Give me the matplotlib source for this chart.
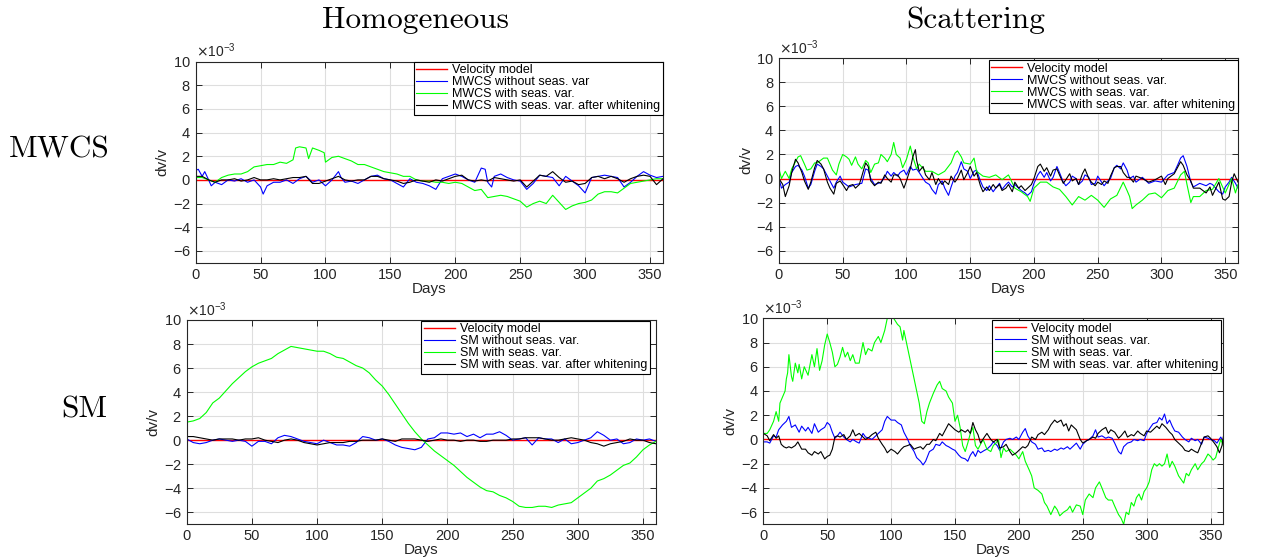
import matplotlib
matplotlib.use("Agg")
import matplotlib.pyplot as plt

plt.rcParams["font.family"] = ["Liberation Sans", "DejaVu Sans"]
plt.rcParams["axes.unicode_minus"] = False

SCALE = 1e-3  # all dv/v values below are in units of 10^-3

# ---------------- Homogeneous medium, MWCS ----------------
HOM_MWCS_MODEL_DAYS = [0, 360]
HOM_MWCS_MODEL = [0.0, 0.0]

HOM_MWCS_BLUE_DAYS = [0, 2, 5, 7, 10, 12, 15, 20, 25, 30, 35, 40, 45, 50, 52, 55, 60, 65, 70, 75,
                      80, 85, 90, 95, 100, 105, 110, 112, 115, 120, 125, 130, 135, 140, 145, 150,
                      155, 160, 165, 170, 175, 180, 185, 190, 195, 200, 205, 210, 215, 220, 223,
                      225, 228, 230, 235, 240, 245, 250, 255, 260, 265, 270, 275, 280, 285, 290,
                      295, 300, 305, 310, 315, 320, 325, 330, 335, 340, 345, 350, 355, 360]
HOM_MWCS_BLUE = [0.8, 0.9, 0.3, 0.7, 0.0, -0.5, -0.2, -0.4, 0.0, -0.1, 0.1, -0.2, 0.0, -0.6, -1.2,
                 -0.5, -0.2, -0.2, 0.0, -0.3, 0.1, 0.3, -0.2, 0.0, -0.5, 0.0, 0.7, 0.2, -0.2, -0.1,
                 -0.3, 0.0, 0.3, 0.4, 0.1, 0.0, -0.3, -0.6, 0.1, -0.2, -0.3, -0.5, -0.8, 0.1, 0.3,
                 0.5, 0.3, 0.0, -0.2, 1.0, 0.9, -0.2, -0.6, 0.3, 0.5, 0.2, 0.0, -0.1, -0.8, -0.3,
                 0.4, 0.3, 0.2, -0.5, 0.3, -0.1, -0.5, -1.1, 0.2, 0.3, 0.4, 0.3, 0.2, -0.6, -0.2,
                 0.3, 0.7, 0.4, 0.2, 0.3]

HOM_MWCS_GREEN_DAYS = [0, 5, 10, 15, 20, 25, 30, 35, 40, 45, 50, 55, 60, 65, 70, 75, 77, 80, 85,
                       87, 90, 95, 99, 100, 105, 110, 115, 120, 125, 130, 135, 140, 145, 150, 155,
                       160, 165, 170, 175, 180, 185, 190, 195, 200, 205, 210, 215, 220, 225, 230,
                       235, 240, 245, 250, 255, 260, 265, 270, 275, 280, 285, 290, 295, 300, 305,
                       310, 315, 320, 325, 330, 335, 340, 345, 350, 355, 360]
HOM_MWCS_GREEN = [0.2, 0.2, 0.0, -0.2, 0.2, 0.4, 0.5, 0.5, 0.7, 1.1, 1.2, 1.3, 1.3, 1.5, 1.4, 1.7,
                  2.7, 2.8, 2.7, 1.8, 2.7, 2.5, 2.3, 1.5, 1.9, 2.0, 1.8, 1.6, 1.3, 1.3, 1.1, 0.9,
                  0.7, 0.6, 0.5, 0.3, 0.3, 0.0, -0.1, -0.1, -0.2, -0.2, -0.3, -0.2, -0.3, -0.6,
                  -0.9, -0.8, -1.5, -1.4, -1.3, -1.4, -1.6, -1.8, -2.3, -2.0, -1.8, -2.0, -1.3,
                  -1.9, -2.5, -2.2, -2.0, -1.9, -1.7, -1.2, -1.0, -1.0, -1.1, -0.7, -0.3, -0.2,
                  -0.1, 0.0, 0.1, 0.1]

HOM_MWCS_BLACK_DAYS = list(range(0, 365, 5))
HOM_MWCS_BLACK = [0.3, 0.3, 0.0, -0.2, 0.0, 0.0, 0.1, -0.1, 0.0, 0.2, 0.0, 0.0, 0.1, 0.0, 0.1,
                  0.2, 0.2, 0.3, -0.3, -0.3, -0.1, 0.1, 0.3, 0.0, -0.1, 0.0, 0.0, 0.3, 0.3, 0.1,
                  0.0, -0.1, -0.3, -0.2, 0.0, -0.1, -0.2, 0.0, -0.1, 0.1, 0.3, 0.4, 0.0, -0.1,
                  0.0, -0.1, 0.2, 0.1, 0.0, -0.1, 0.0, -0.6, -0.1, 0.4, 0.3, 0.7, 0.2, -0.2,
                  -0.1, -0.4, -0.3, 0.2, 0.3, 0.1, 0.3, 0.1, -0.2, 0.1, 0.3, 0.4, 0.3, -0.4, 0.1]

# ---------------- Scattering medium, MWCS ----------------
SCA_MWCS_GREEN_DAYS = [0, 2, 5, 8, 10, 13, 15, 17, 20, 22, 25, 28, 30, 35, 38, 40, 42, 45, 47, 50,
                       53, 55, 57, 60, 62, 65, 68, 70, 72, 75, 78, 80, 83, 85, 88, 90, 92, 95, 97,
                       100, 103, 105, 108, 110, 115, 120, 125, 130, 135, 138, 140, 143, 145, 150,
                       153, 155, 160, 165, 170, 175, 180, 185, 190, 195, 197, 200, 205, 210, 215,
                       220, 225, 230, 235, 240, 245, 250, 255, 260, 265, 270, 273, 275, 277, 280,
                       285, 290, 295, 300, 305, 310, 315, 318, 320, 323, 325, 330, 335, 340, 345,
                       350, 355, 358, 360]
SCA_MWCS_GREEN = [0.8, 0.0, 0.6, 0.0, 0.8, 1.4, 1.8, 1.9, 1.2, 0.7, 0.8, 1.3, 1.3, 1.7, 1.7, 1.2,
                  0.7, 0.3, 1.2, 2.0, 1.8, 1.6, 1.1, 1.8, 1.2, 0.8, 1.5, 1.3, 0.5, 1.2, 1.3, 2.0,
                  1.7, 1.4, 2.0, 3.0, 2.0, 1.7, 0.9, 1.6, 2.7, 1.8, 0.8, 1.2, 0.6, 0.6, 0.3, 0.6,
                  1.3, 2.1, 2.3, 1.8, 1.3, 1.2, 1.7, 0.6, 0.2, 0.1, 0.3, -0.1, 0.3, -0.8, -1.1,
                  -1.5, -1.9, -0.8, -0.3, -0.3, -0.7, -0.9, -1.5, -2.2, -1.5, -1.8, -1.4, -1.8,
                  -2.4, -1.7, -1.4, -0.3, -1.0, -1.5, -2.5, -2.2, -1.8, -1.3, -1.2, -1.6, -1.0,
                  -0.8, 0.3, 0.6, -0.5, -2.0, -1.5, -1.5, -1.0, -0.9, 0.0, -1.2, 0.0, -1.2, -0.5]

SCA_MWCS_BLUE_DAYS = [0, 2, 5, 8, 10, 13, 15, 18, 20, 23, 25, 28, 30, 33, 35, 38, 40, 43, 45, 48,
                      50, 55, 60, 65, 68, 70, 72, 75, 78, 80, 83, 85, 88, 90, 93, 95, 98, 100, 103,
                      105, 108, 110, 113, 115, 118, 120, 123, 125, 128, 130, 133, 135, 138, 140,
                      143, 145, 148, 150, 153, 155, 158, 160, 163, 165, 168, 170, 173, 175, 178,
                      180, 183, 185, 188, 190, 193, 195, 198, 200, 203, 205, 208, 210, 213, 215,
                      218, 220, 223, 225, 228, 230, 233, 235, 238, 240, 243, 245, 248, 250, 253,
                      255, 258, 260, 263, 265, 268, 270, 273, 275, 278, 280, 285, 290, 295, 300,
                      305, 310, 313, 315, 317, 320, 323, 325, 330, 335, 338, 340, 345, 348, 350,
                      353, 355, 358, 360]
SCA_MWCS_BLUE = [0.0, -0.8, -0.5, -0.3, 0.5, 1.0, 1.1, 0.7, 0.2, -0.8, -0.5, 0.6, 1.2, 1.0, 0.8,
                 0.2, -0.2, -0.8, -0.3, 0.2, -0.3, -0.7, -0.5, -0.4, 0.8, 0.7, 0.0, -0.5, -0.4,
                 -0.3, 0.1, 0.6, 0.2, 0.5, 0.2, 0.5, 0.7, 0.3, 1.0, 0.7, 0.8, 0.5, 0.0, -0.3,
                 -0.5, -0.9, -1.3, -0.5, -0.2, -0.8, -1.4, -0.7, 0.2, 0.5, 1.4, 0.8, 0.6, 0.0,
                 0.6, 0.7, -0.2, -0.7, -1.0, -0.6, -1.1, -0.8, -0.4, -0.9, -0.5, -0.3, -0.7,
                 -0.5, -0.8, -1.0, -1.2, -1.4, -1.1, -0.4, 0.3, 0.6, 0.1, 0.5, -0.2, 0.1, 1.0,
                 0.5, -0.3, -0.6, -0.3, 0.2, 0.0, -0.5, -0.2, 0.3, 0.1, -0.5, -0.4, 0.2, -0.3,
                 -0.6, -0.2, 0.0, 0.9, 1.1, 0.8, 1.3, 0.7, 0.0, 0.2, -0.3, 0.1, -0.4, -0.2, -0.3,
                 0.3, 0.5, 1.2, 1.7, 1.9, 1.0, -0.3, -0.7, -0.4, -0.6, -0.4, -0.5, -1.1, -1.3,
                 -0.7, -0.3, 0.1, -0.4, -0.8]

SCA_MWCS_BLACK_DAYS = [0, 3, 5, 8, 10, 13, 15, 18, 20, 23, 25, 28, 30, 33, 35, 38, 40, 43, 45, 48,
                       50, 53, 55, 58, 60, 63, 65, 68, 70, 72, 75, 78, 80, 83, 85, 88, 90, 93, 95,
                       98, 100, 103, 105, 107, 108, 110, 113, 115, 118, 120, 123, 125, 128, 130,
                       133, 135, 138, 140, 143, 145, 148, 150, 153, 155, 158, 160, 163, 165, 168,
                       170, 173, 175, 178, 180, 183, 185, 188, 190, 193, 195, 198, 200, 203, 205,
                       208, 210, 213, 215, 218, 220, 223, 225, 228, 230, 233, 235, 238, 240, 243,
                       245, 248, 250, 253, 255, 258, 260, 263, 265, 268, 270, 273, 275, 278, 280,
                       285, 290, 295, 300, 303, 305, 310, 313, 315, 317, 320, 323, 325, 330, 335,
                       338, 340, 345, 348, 350, 353, 355, 357, 360]
SCA_MWCS_BLACK = [0.0, -0.5, -1.5, -0.6, 0.5, 1.6, 1.3, 0.5, -0.2, -0.9, -0.3, 0.9, 1.5, 1.2, 0.8,
                  -0.3, -0.8, -1.3, -0.4, -0.2, -0.5, -1.0, -0.6, -0.5, -0.8, -0.5, 0.2, 1.3, 1.0,
                  -0.2, -0.6, -0.3, -0.4, 0.3, 0.0, -0.3, 0.3, 0.3, 0.0, -0.8, -0.2, 0.8, 1.8,
                  2.4, 1.5, 0.6, 1.0, 0.3, -0.1, 0.5, -0.5, 0.0, -0.5, -0.2, -0.5, 0.2, -0.3, 0.0,
                  0.7, -0.1, 0.5, 1.0, 0.2, 0.5, -0.6, -1.1, -0.7, -1.0, -0.5, -0.8, -0.5, -1.0,
                  -0.8, -0.5, -1.1, -0.3, -0.8, -0.6, -1.0, -0.8, -0.5, 0.0, 1.0, 1.2, 0.6, 0.9,
                  0.2, 0.7, 0.8, 0.3, -0.4, -0.1, 0.4, -0.2, 0.0, -0.5, 0.4, 0.8, 0.0, -0.3, -0.6,
                  -0.3, -0.5, -0.2, -0.4, 0.2, 0.9, 1.0, 1.0, 0.5, 0.1, 0.1, -0.3, 0.2, 0.0, -0.3,
                  -0.1, 0.2, -0.5, 0.0, 0.4, 1.0, 1.4, 1.1, 0.3, -0.2, -0.8, -0.8, -1.2, -0.7,
                  -1.4, -0.3, -1.7, -1.8, -1.5, -0.3, 0.4, -0.3]

# ---------------- Homogeneous medium, SM ----------------
HOM_SM_DAYS = list(range(0, 365, 5))
HOM_SM_GREEN = [1.5, 1.6, 1.8, 2.3, 3.1, 3.5, 4.1, 4.7, 5.2, 5.7, 6.1, 6.4, 6.6, 6.8, 7.2, 7.5,
                7.8, 7.7, 7.6, 7.5, 7.4, 7.4, 7.2, 6.9, 6.8, 6.5, 6.2, 6.0, 5.6, 5.0, 4.5, 3.8,
                3.0, 2.2, 1.4, 0.7, 0.1, -0.4, -0.9, -1.3, -1.7, -2.1, -2.6, -3.1, -3.5, -3.9,
                -4.2, -4.3, -4.6, -4.8, -5.1, -5.5, -5.6, -5.6, -5.5, -5.5, -5.6, -5.4, -5.3,
                -5.2, -4.8, -4.4, -4.0, -3.4, -3.2, -2.9, -2.5, -2.1, -1.9, -1.4, -0.8, -0.4, -0.1]
HOM_SM_BLUE = [0.1, -0.2, -0.3, -0.2, 0.0, 0.1, 0.0, -0.1, 0.0, -0.1, -0.5, -0.1, -0.1, -0.3,
               0.2, 0.4, 0.3, 0.1, -0.1, -0.2, -0.3, 0.0, -0.2, -0.4, -0.4, -0.5, -0.2, 0.3, 0.2,
               0.0, 0.1, -0.1, -0.4, -0.6, -0.7, -0.8, -0.6, 0.1, 0.2, 0.6, 0.6, 0.5, 0.6, 0.3,
               0.5, 0.2, 0.5, 0.5, 0.7, 0.4, 0.0, 0.1, 0.2, -0.4, 0.2, 0.1, 0.1, -0.2, 0.1,
               -0.3, -0.2, 0.0, 0.2, 0.7, 0.4, 0.0, 0.1, -0.3, -0.2, 0.1, 0.0, 0.1, -0.1]
HOM_SM_BLACK = [0.3, 0.3, 0.2, 0.1, 0.0, 0.1, 0.1, 0.1, 0.0, 0.1, 0.1, 0.2, 0.0, -0.1, -0.2,
                0.0, 0.1, 0.0, -0.2, -0.3, -0.4, -0.3, -0.2, -0.2, -0.2, -0.1, -0.1, 0.0, 0.0,
                0.0, 0.1, 0.0, -0.1, 0.1, 0.1, 0.1, 0.0, -0.1, 0.0, 0.1, 0.0, 0.0, -0.1, 0.0,
                0.0, -0.1, -0.1, 0.0, 0.0, 0.0, 0.1, 0.1, 0.2, 0.2, 0.2, 0.1, 0.0, 0.0, 0.1, 0.2,
                0.1, 0.0, -0.2, -0.3, -0.5, -0.3, -0.2, -0.1, 0.1, 0.0, 0.0, -0.2, -0.3]

# ---------------- Scattering medium, SM ----------------
SCA_SM_GREEN_DAYS = [0, 3, 5, 8, 10, 12, 13, 15, 17, 18, 19, 20, 22, 23, 25, 27, 28, 30, 32, 35,
                     38, 40, 42, 44, 46, 48, 50, 52, 54, 56, 58, 60, 62, 64, 66, 68, 70, 72, 75,
                     78, 80, 82, 85, 87, 90, 92, 95, 97, 99, 102, 105, 107, 109, 110, 112, 115,
                     118, 120, 122, 124, 126, 128, 130, 133, 136, 138, 140, 143, 145, 148, 150,
                     152, 154, 156, 158, 160, 162, 164, 166, 168, 170, 172, 175, 178, 180, 182,
                     184, 186, 188, 190, 193, 195, 198, 200, 203, 205, 208, 210, 212, 215, 218,
                     220, 222, 225, 228, 230, 232, 235, 238, 240, 242, 245, 248, 250, 252, 255,
                     258, 260, 263, 265, 268, 270, 273, 275, 278, 280, 282, 284, 286, 288, 290,
                     292, 294, 296, 298, 300, 302, 304, 306, 308, 310, 312, 314, 316, 318, 320,
                     322, 325, 327, 329, 331, 333, 335, 338, 340, 343, 345, 348, 350, 352, 354,
                     356, 358, 360]
SCA_SM_GREEN = [0.5, 0.5, 0.8, 1.5, 2.3, 1.5, 3.0, 3.5, 4.0, 5.0, 5.5, 7.0, 5.2, 4.8, 6.3, 5.5,
                6.2, 5.0, 6.0, 5.3, 7.0, 6.0, 7.5, 5.7, 6.5, 7.8, 8.7, 8.0, 7.2, 6.0, 6.2, 6.8,
                7.6, 6.8, 7.2, 6.5, 7.0, 6.3, 6.3, 8.0, 7.0, 7.5, 7.3, 8.0, 8.5, 8.0, 9.0, 10.0,
                10.3, 10.0, 9.5, 9.3, 8.2, 9.0, 8.0, 6.5, 5.0, 4.0, 3.0, 1.5, 1.3, 2.3, 3.0, 3.8,
                4.5, 4.8, 4.2, 4.0, 3.5, 3.0, 1.5, 2.0, 1.0, -0.5, -1.0, -0.3, 0.5, 1.0, -0.5,
                -0.8, -0.4, 0.0, -0.8, -1.0, -0.5, -0.3, 0.0, -1.5, -0.7, -1.0, -0.8, -1.0, -1.3,
                -1.6, -1.0, -1.8, -2.5, -3.0, -4.0, -4.2, -4.5, -5.2, -5.5, -6.2, -5.5, -5.8,
                -6.3, -6.0, -5.8, -5.5, -6.0, -5.4, -5.5, -6.2, -5.0, -4.5, -4.8, -4.0, -3.5,
                -4.0, -4.8, -5.0, -5.0, -5.5, -6.2, -6.5, -7.0, -6.0, -6.2, -5.2, -5.5, -4.8,
                -4.5, -5.0, -4.3, -4.0, -3.5, -2.5, -2.0, -2.2, -2.0, -2.2, -2.0, -1.2, -2.3,
                -1.8, -2.2, -3.0, -3.3, -3.6, -2.8, -3.0, -2.5, -2.0, -2.5, -2.0, -1.8, -1.2,
                -1.4, -1.7, -1.5, -0.7, 0.0, -0.5]

SCA_SM_BLUE_DAYS = [0, 3, 5, 8, 10, 12, 15, 18, 20, 22, 25, 28, 30, 33, 35, 38, 40, 43, 45, 48,
                    50, 52, 54, 56, 58, 60, 63, 65, 68, 70, 73, 75, 78, 80, 83, 85, 88, 90, 93,
                    95, 97, 100, 103, 105, 108, 110, 113, 115, 118, 120, 123, 125, 127, 130, 133,
                    135, 138, 140, 143, 145, 148, 150, 153, 155, 158, 160, 162, 164, 166, 168,
                    170, 173, 175, 178, 180, 183, 185, 188, 190, 193, 195, 198, 200, 203, 205,
                    207, 210, 213, 215, 218, 220, 223, 225, 228, 230, 233, 235, 238, 240, 243,
                    245, 248, 250, 253, 255, 258, 260, 262, 265, 268, 270, 273, 275, 278, 280,
                    282, 285, 288, 290, 293, 295, 298, 300, 303, 305, 308, 310, 312, 314, 316,
                    318, 320, 322, 325, 328, 330, 333, 335, 338, 340, 343, 345, 348, 350, 353,
                    355, 358, 360]
SCA_SM_BLUE = [-0.2, -0.2, -0.3, 0.3, 0.2, 0.8, 1.2, 1.5, 1.9, 1.0, 1.2, 0.6, 1.1, 0.7, 1.0, 0.5,
               1.3, 0.6, 0.8, 1.0, 1.4, 1.2, 0.6, 0.1, 0.3, 0.6, 0.2, 0.0, -0.2, 0.0, -0.2, -0.3,
               0.5, 0.2, 0.1, 0.0, 0.3, 0.5, 0.8, 1.5, 1.9, 1.6, 1.6, 1.4, 1.2, 0.6, 0.0, -0.5,
               -1.0, -1.5, -1.8, -2.1, -1.8, -1.0, -0.8, -0.4, -0.5, -0.2, -0.5, -0.6, -0.8,
               -0.9, -1.3, -1.5, -1.6, -1.8, -1.3, -1.0, -1.4, -0.9, -1.1, -0.9, -0.8, -0.5,
               -0.2, -0.5, -0.9, -0.2, 0.0, 0.1, 0.0, 0.2, 0.0, 0.6, 0.9, 0.3, -0.2, -0.4, -0.8,
               -0.7, -1.0, -0.9, -1.0, -0.8, -0.9, -0.7, -0.8, -0.6, -0.8, -0.5, -0.3, -0.8,
               -0.4, -0.1, 0.0, 0.3, 0.8, 0.2, 0.3, 0.1, 0.2, 0.1, -0.3, -1.0, -1.2, -0.6, -0.3,
               -0.2, 0.0, -0.1, 0.0, -0.1, 0.5, 1.0, 1.3, 1.4, 1.8, 1.6, 2.1, 1.3, 1.6, 1.1, 0.7,
               0.6, 0.2, 0.0, -0.2, 0.1, -0.1, 0.0, -0.4, 0.2, 0.1, 0.0, -0.1, -0.3, 0.2, -0.2]

SCA_SM_BLACK_DAYS = [0, 3, 5, 8, 10, 12, 14, 16, 18, 20, 22, 25, 27, 30, 33, 35, 38, 40, 43, 45,
                     48, 50, 52, 54, 56, 58, 60, 63, 65, 68, 70, 72, 75, 78, 80, 83, 85, 88, 90,
                     93, 95, 97, 100, 103, 105, 108, 110, 113, 115, 118, 120, 123, 125, 128, 130,
                     133, 135, 138, 140, 143, 145, 148, 150, 153, 155, 158, 160, 162, 164, 166,
                     168, 170, 173, 175, 178, 180, 183, 185, 188, 190, 193, 195, 198, 200, 203,
                     205, 207, 210, 213, 215, 218, 220, 223, 225, 228, 230, 233, 235, 237, 239,
                     241, 243, 245, 248, 250, 253, 255, 258, 260, 262, 265, 268, 270, 272, 275,
                     278, 280, 283, 285, 288, 290, 293, 295, 298, 300, 303, 305, 308, 310, 312,
                     315, 318, 320, 322, 325, 328, 330, 333, 335, 338, 340, 343, 345, 348, 350,
                     353, 355, 357, 359, 360]
SCA_SM_BLACK = [0.5, 0.3, -0.1, 0.4, 0.1, 0.3, -0.4, -0.6, -0.7, -0.6, -0.7, -0.5, -0.2, -0.8,
                -0.8, -1.1, -1.3, -1.0, -1.2, -1.0, -1.6, -1.4, -1.3, -0.8, 0.2, 0.3, 0.2, 0.4,
                0.0, 0.3, 0.8, 0.3, 0.5, 0.2, 0.0, 0.2, 0.4, 0.6, 0.1, -0.4, -0.7, -1.1, -0.8,
                -1.0, -1.2, -0.8, -0.6, -0.5, -0.4, -0.8, -0.7, -0.6, -0.8, -0.4, -0.4, 0.0,
                -0.1, 0.5, 0.3, 0.9, 1.3, 1.0, 0.8, 0.6, 0.8, 0.6, 0.8, 0.5, 1.4, 0.8, 0.4, -0.3,
                0.2, 0.5, 0.0, -0.2, 0.0, -0.7, -0.6, -0.4, -1.0, -1.3, -1.1, -0.9, -0.6, -0.7,
                -0.5, 0.2, 0.0, 0.4, 0.6, 0.4, 0.8, 1.2, 1.6, 1.4, 1.6, 1.1, 1.3, 0.7, 1.2, 1.0,
                0.8, 0.0, -0.3, -0.1, 0.0, 0.2, 0.1, 0.5, 0.8, 1.0, 0.5, 0.8, 0.6, 0.1, 0.3, 0.7,
                0.2, 0.4, 0.3, 0.7, 0.5, 0.3, 0.7, 0.6, 0.8, 1.1, 0.9, 1.3, 1.0, 0.6, 0.4, 0.0,
                -0.3, -0.6, -0.9, -1.0, -0.8, -1.0, -1.1, -0.3, 0.2, 0.3, 0.1, -0.3, -0.6, -1.1,
                -0.5, 0.2]

HOM_MWCS_LABELS = ["Velocity model", "MWCS without seas. var", "MWCS with seas. var.",
                   "MWCS with seas. var. after whitening"]
SCA_MWCS_LABELS = ["Velocity model", "MWCS without seas. var.", "MWCS with seas. var.",
                   "MWCS with seas. var. after whitening"]
SM_LABELS = ["Velocity model", "SM without seas. var.", "SM with seas. var.",
             "SM with seas. var. after whitening"]

COLORS = ["#ff0000", "#0000ff", "#00ff00", "#000000"]
AX_COLOR = "#262626"


def draw_panel(ax, series, labels, legend_anchor):
    for (days, vals), color, label in zip(series, COLORS, labels):
        lw = 1.0 if color == "#ff0000" else 0.8
        ax.plot(days, [v * SCALE for v in vals], color=color, lw=lw, label=label)

    ax.set_xlim(0, 360)
    ax.set_ylim(-7 * SCALE, 10 * SCALE)
    ax.set_xticks(range(0, 351, 50))
    ax.set_yticks([v * SCALE for v in range(-6, 11, 2)])
    ax.ticklabel_format(axis="y", style="sci", scilimits=(-3, -3), useMathText=True)
    ax.yaxis.get_offset_text().set_fontsize(10)
    ax.yaxis.get_offset_text().set_color(AX_COLOR)

    ax.grid(True, color="#dedede", lw=0.8)
    ax.set_axisbelow(True)
    ax.tick_params(direction="in", length=4.5, width=0.7, top=True, right=True,
                   labelsize=10.5, colors=AX_COLOR)
    for sp in ax.spines.values():
        sp.set_color(AX_COLOR)
        sp.set_linewidth(0.8)

    ax.set_xlabel("Days", fontsize=11, color=AX_COLOR, labelpad=0)
    ax.set_ylabel("dv/v", fontsize=11, color=AX_COLOR, labelpad=2)

    leg = ax.legend(loc="upper right", bbox_to_anchor=legend_anchor, fontsize=9,
                    frameon=True, fancybox=False, framealpha=1, edgecolor="black",
                    borderaxespad=0, borderpad=0.2, labelspacing=0.0,
                    handlelength=2.5, handletextpad=0.4)
    leg.get_frame().set_linewidth(0.8)


fig = plt.figure(figsize=(12.78, 5.59), dpi=100)

ax1 = fig.add_axes([0.1531, 0.5301, 0.3657, 0.3596])
ax2 = fig.add_axes([0.6095, 0.5301, 0.3592, 0.3656])
ax3 = fig.add_axes([0.1461, 0.0621, 0.3672, 0.3655])
ax4 = fig.add_axes([0.5973, 0.0621, 0.3599, 0.3685])

draw_panel(ax1, [(HOM_MWCS_MODEL_DAYS, HOM_MWCS_MODEL),
                 (HOM_MWCS_BLUE_DAYS, HOM_MWCS_BLUE),
                 (HOM_MWCS_GREEN_DAYS, HOM_MWCS_GREEN),
                 (HOM_MWCS_BLACK_DAYS, HOM_MWCS_BLACK)],
           HOM_MWCS_LABELS, (1.0, 1.0))
draw_panel(ax2, [(HOM_MWCS_MODEL_DAYS, HOM_MWCS_MODEL),
                 (SCA_MWCS_BLUE_DAYS, SCA_MWCS_BLUE),
                 (SCA_MWCS_GREEN_DAYS, SCA_MWCS_GREEN),
                 (SCA_MWCS_BLACK_DAYS, SCA_MWCS_BLACK)],
           SCA_MWCS_LABELS, (1.0, 0.99))
draw_panel(ax3, [(HOM_MWCS_MODEL_DAYS, HOM_MWCS_MODEL),
                 (HOM_SM_DAYS, HOM_SM_BLUE),
                 (HOM_SM_DAYS, HOM_SM_GREEN),
                 (HOM_SM_DAYS, HOM_SM_BLACK)],
           SM_LABELS, (0.987, 0.995))
draw_panel(ax4, [(HOM_MWCS_MODEL_DAYS, HOM_MWCS_MODEL),
                 (SCA_SM_BLUE_DAYS, SCA_SM_BLUE),
                 (SCA_SM_GREEN_DAYS, SCA_SM_GREEN),
                 (SCA_SM_BLACK_DAYS, SCA_SM_BLACK)],
           SM_LABELS, (0.995, 0.99))

serif = ["cmr10", "DejaVu Serif"]
fig.text(415 / 1278, 1 - 20 / 559, "Homogeneous", family=serif, fontsize=22.5,
         ha="center", va="center")
fig.text(976 / 1278, 1 - 20 / 559, "Scattering", family=serif, fontsize=22.5,
         ha="center", va="center")
fig.text(59 / 1278, 1 - 150 / 559, "MWCS", family=serif, fontsize=22.5,
         ha="center", va="center")
fig.text(84 / 1278, 1 - 410 / 559, "SM", family=serif, fontsize=22.5,
         ha="center", va="center")

fig.savefig("out.png", dpi=100)
